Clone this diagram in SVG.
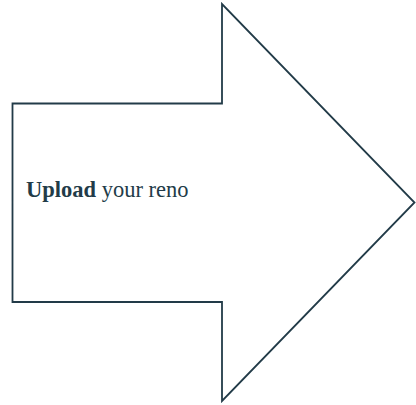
<svg xmlns="http://www.w3.org/2000/svg" width="416" height="405" viewBox="0 0 416 405">
<style>
.shape{fill:#fff;stroke:#223b48;stroke-width:1.8;stroke-linejoin:miter}
.t{font-family:"Liberation Serif","DejaVu Serif",serif;font-size:22.5px;fill:#223b48}
</style>
<rect width="416" height="405" fill="#fff"/>
<g id="arrow">
<polygon class="shape" points="12.5,103.5 222,103.5 222,4 414.5,202.5 222,401 222,302 12.5,302"/>
<text class="t" x="26" y="197"><tspan font-weight="bold">Upload</tspan> your reno</text>
</g>
</svg>
